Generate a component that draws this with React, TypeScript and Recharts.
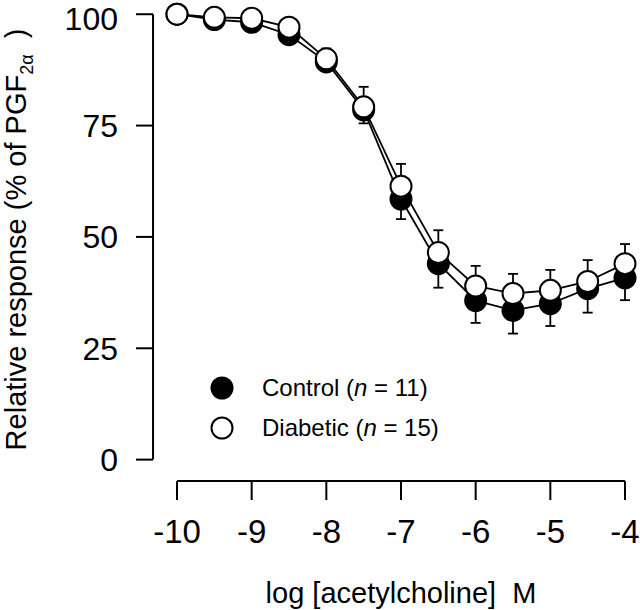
import {
  LineChart,
  Line,
  XAxis,
  YAxis,
  ErrorBar,
  Legend,
  ReferenceLine,
  Label,
} from "recharts";

const logConc = [-10, -9.5, -9, -8.5, -8, -7.5, -7, -6.5, -6, -5.5, -5, -4.5, -4];
const control = [100, 98.8, 98.2, 95.4, 89.3, 78.5, 58.5, 44, 35.7, 33.5, 35, 38.4, 40.8];
const controlSE = [0.5, 0.8, 1, 1.3, 2, 3, 4.5, 5.4, 5, 5.2, 5, 5.4, 5];
const diabetic = [100, 99.3, 99.1, 97.1, 90, 79.2, 61.4, 46.5, 39, 37.3, 38, 40, 44];
const diabeticSE = [0.5, 0.6, 0.8, 1.2, 2.3, 4.5, 5, 5, 4.5, 4.4, 4.6, 4.8, 4.4];

const xTicks = [-10, -9, -8, -7, -6, -5, -4];
const yTicks = [0, 25, 50, 75, 100];

const legendItems = [
  { name: "Control", n: 11, filled: true },
  { name: "Diabetic", n: 15, filled: false },
];

const FONT = "'Liberation Sans', Arial, Helvetica, sans-serif";

const data = logConc.map((x, i) => ({
  x,
  control: control[i],
  // control error shown downward, diabetic upward
  controlErr: [controlSE[i], 0],
  diabetic: diabetic[i],
  diabeticErr: [0, diabeticSE[i]],
}));

const makeDot = (filled: boolean) => (props: any) => (
  <circle
    key={`dot-${filled ? "c" : "d"}-${props.index}`}
    cx={props.cx}
    cy={props.cy}
    r={10.5}
    fill={filled ? "#000" : "#fff"}
    stroke="#000"
    strokeWidth={2}
  />
);

function LegendContent() {
  return (
    <div style={{ fontFamily: FONT, fontSize: 24, color: "#000" }}>
      {legendItems.map((item) => (
        <div
          key={item.name}
          style={{ display: "flex", alignItems: "center", height: 40 }}
        >
          <svg width={24} height={24} style={{ marginRight: 28 }}>
            <circle
              cx={12}
              cy={12}
              r={10.5}
              fill={item.filled ? "#000" : "#fff"}
              stroke="#000"
              strokeWidth={2}
            />
          </svg>
          <span>
            {item.name} (<i>n</i> = {item.n})
          </span>
        </div>
      ))}
    </div>
  );
}

export default function App() {
  return (
    <div style={{ position: "absolute", left: 0, top: 0 }}>
      <LineChart
        width={640}
        height={610}
        data={data}
        margin={{ top: 12, right: 15, bottom: 0, left: 0 }}
      >
        <XAxis
          type="number"
          dataKey="x"
          domain={[-10, -4]}
          ticks={xTicks}
          padding={{ left: 24, right: 0 }}
          axisLine={false}
          tickLine={{ stroke: "#000", strokeWidth: 2 }}
          tickSize={19}
          tickMargin={20}
          height={129}
          tick={{ fill: "#000", fontSize: 33, fontFamily: FONT }}
        >
          <Label
            content={({ viewBox }: any) => (
              <text
                x={viewBox.x + 24 + (viewBox.width - 24) / 2}
                y={603}
                textAnchor="middle"
                fontSize={29}
                fontFamily={FONT}
                fill="#000"
              >
                log [acetylcholine]{"\u00a0\u00a0"}M
              </text>
            )}
          />
        </XAxis>
        <YAxis
          type="number"
          domain={[-4.8, 100]}
          ticks={yTicks}
          width={153}
          axisLine={false}
          tickLine={{ stroke: "#000", strokeWidth: 2 }}
          tickSize={17}
          tickMargin={18}
          tick={{ fill: "#000", fontSize: 32, fontFamily: FONT }}
        >
          <Label
            content={({ viewBox }: any) => {
              const cx = 26;
              const cy = viewBox.y + viewBox.height / 2 - 7;
              return (
                <text
                  x={cx}
                  y={cy}
                  transform={`rotate(-90, ${cx}, ${cy})`}
                  textAnchor="middle"
                  fontSize={29}
                  fontFamily={FONT}
                  fill="#000"
                >
                  Relative response (% of PGF
                  <tspan fontSize={18} dy={7}>
                    2α
                  </tspan>
                  <tspan dy={-7}>{"\u00a0\u00a0"})</tspan>
                </text>
              );
            }}
          />
        </YAxis>
        {/* detached axis lines */}
        <ReferenceLine
          segment={[
            { x: -10.321, y: 0 },
            { x: -10.321, y: 100 },
          ]}
          stroke="#000"
          strokeWidth={2}
          ifOverflow="visible"
        />
        <ReferenceLine
          segment={[
            { x: -10, y: -4.8 },
            { x: -4, y: -4.8 },
          ]}
          stroke="#000"
          strokeWidth={2}
          ifOverflow="visible"
        />
        <Legend
          layout="vertical"
          align="center"
          verticalAlign="middle"
          content={() => <LegendContent />}
          wrapperStyle={{ left: 210, top: 368, width: 300, height: 80 }}
        />
        <Line
          name="Control"
          dataKey="control"
          stroke="#000"
          strokeWidth={1.8}
          dot={makeDot(true)}
          activeDot={false}
          isAnimationActive={false}
        >
          <ErrorBar
            dataKey="controlErr"
            direction="y"
            width={5}
            stroke="#000"
            strokeWidth={1.8}
            isAnimationActive={false}
          />
        </Line>
        <Line
          name="Diabetic"
          dataKey="diabetic"
          stroke="#000"
          strokeWidth={1.8}
          dot={makeDot(false)}
          activeDot={false}
          isAnimationActive={false}
        >
          <ErrorBar
            dataKey="diabeticErr"
            direction="y"
            width={5}
            stroke="#000"
            strokeWidth={1.8}
            isAnimationActive={false}
          />
        </Line>
      </LineChart>
    </div>
  );
}
